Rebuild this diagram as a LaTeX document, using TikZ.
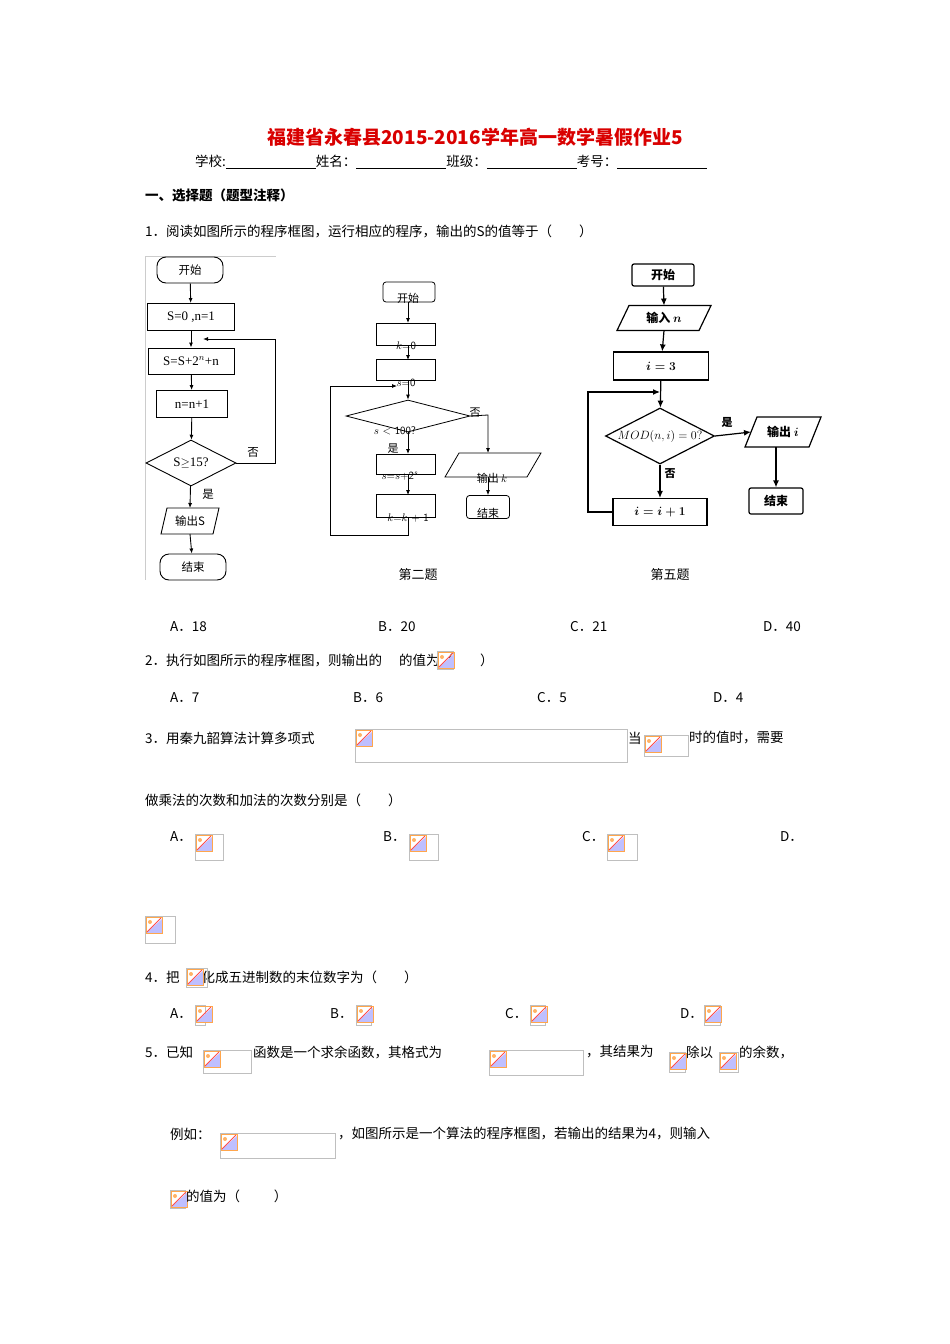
\documentclass[tikz,border=0pt]{standalone}
\usepackage{amsmath}
\usepackage{fontspec}
\setmainfont{Liberation Serif}
\newfontfamily\cjk{Noto Sans CJK SC}
\usetikzlibrary{shapes.geometric,arrows.meta}
\newcommand\phbox[4]{%
 \draw[gray!50,line width=0.5pt] (#1,#2) rectangle (#3,#4);
 \fill[blue!25] (#1+1,#2+17) -- (#1+17,#2+17) -- (#1+17,#2+3) -- cycle;
 \draw[orange!70,line width=0.6pt] (#1+1,#2+1) rectangle (#1+17,#2+17);
 \draw[red!70,line width=1pt] (#1+2,#2+16) -- (#1+16,#2+2);
 \fill[orange!60] (#1+5,#2+6) circle (2);}
% parallelogram: name, cx, cy, halfwidth, halfheight, skew, linewidth
\newcommand\parg[7]{%
 \draw[line width=#7] (#2-#4,#3+#5) -- (#2-#4+#6,#3-#5) -- (#2+#4,#3-#5) -- (#2+#4-#6,#3+#5) -- cycle;
 \coordinate (#1) at (#2,#3);
 \coordinate (#1-n) at (#2,#3-#5);
 \coordinate (#1-s) at (#2,#3+#5);
 \coordinate (#1-w) at (#2-#4+#6/2,#3);}
\tikzset{
 txt/.style={font=\cjk\fontsize{13.5}{15}\selectfont,anchor=west,inner sep=0},
 box/.style={draw,line width=0.9pt,inner sep=0},
 fc/.style={font=\cjk\fontsize{11.5}{13}\selectfont},
 ar/.style={-{Latex[length=5pt,width=4pt]},line width=0.9pt},
 ln/.style={line width=0.9pt}
}
\begin{document}
\begin{tikzpicture}[x=1pt,y=-1pt]
\useasboundingbox[fill=white] (0,0) rectangle (950,1344);
\node[font=\cjk\bfseries\fontsize{19}{21}\selectfont,text=red!85!black] (title) at (475,137) {福建省永春县2015-2016学年高一数学暑假作业5};
\node[txt] (info) at (195,162) {学校:\underline{\hspace{90pt}}姓名：\underline{\hspace{90pt}}班级：\underline{\hspace{90pt}}考号：\underline{\hspace{90pt}}};
\node[txt,font=\cjk\bfseries\fontsize{13.5}{15}\selectfont] (sec) at (145,195) {一、选择题（题型注释）};
\node[txt] (q1) at (145,231) {1．阅读如图所示的程序框图，运行相应的程序，输出的S的值等于（\hspace{2em}）};

% ---- chart 1
\draw[gray!40,line width=0.6pt] (145,256) -- (276,256);
\draw[gray!40,line width=0.6pt] (145,256) -- (145,580);
\node[box,rounded corners=9pt,minimum width=66pt,minimum height=26pt,fc] (a1) at (190,270) {开始};
\node[box,minimum width=87pt,minimum height=27pt,font=\fontsize{13}{15}\selectfont] (a2) at (191,317) {S=0 ,n=1};
\node[box,minimum width=86pt,minimum height=26pt,font=\fontsize{13}{15}\selectfont] (a3) at (191,361) {S=S+2$^{n}$+n};
\node[box,minimum width=71pt,minimum height=27pt,font=\fontsize{13}{15}\selectfont] (a4) at (192,404) {n=n+1};
\node[draw,line width=0.9pt,diamond,aspect=2,minimum width=90pt,minimum height=46pt,inner sep=0,font=\fontsize{13}{15}\selectfont] (a5) at (191,463) {S$\geq$15?};
\parg{a6}{190}{521}{29}{13}{6}{0.9pt}
\node[fc] (a6t) at (190,521) {输出S};
\node[box,rounded corners=9pt,minimum width=66pt,minimum height=26pt,fc] (a7) at (193,567) {结束};
\draw[ar] (a1) -- (a2);
\draw[ar] (a2) -- (a3);
\draw[ar] (a3) -- (a4);
\draw[ar] (a4) -- (a5);
\draw[ar] (a5) -- (a6-n);
\draw[ar] (a6-s) -- (a7);
\draw[ar] (a5.east) -- (275,463) -- (275,339) -- (203,339);
\node[fc] (l1) at (253,452) {否};
\node[fc] (l2) at (208,494) {是};

% ---- chart 2
\tikzset{b2/.style={draw,line width=0.8pt,minimum width=59pt,inner sep=0}, t2/.style={font=\sffamily\fontsize{11}{12}\selectfont}}
\node[b2,rounded corners=3pt,minimum width=52pt,minimum height=20pt] (b1) at (409,292) {};
\node[t2,font=\cjk\fontsize{11}{12}\selectfont] at (408,298) {开始};
\node[b2,minimum height=22pt] (b2n) at (406,334) {};
\node[t2] at (406,346) {$k$=0};
\node[b2,minimum height=21pt] (b3) at (406,370) {};
\node[t2] at (406,383) {$s$=0};
\node[draw,line width=0.8pt,diamond,aspect=3.8,minimum width=124pt,minimum height=32pt,inner sep=0] (b4) at (408,416) {};
\node[t2] at (395,431) {$s$ $<$ 100?};
\node[b2,minimum height=20pt] (b5) at (406,464) {};
\node[t2] at (400,476) {$s$=$s$+2$^{s}$};
\node[b2,minimum height=23pt] (b6) at (406,506) {};
\node[t2] at (408,518) {$k$=$k$ + 1};
\parg{b7}{493}{465}{48}{12}{14}{0.8pt}
\node[t2,font=\cjk\fontsize{11}{12}\selectfont] at (492,478) {输出 $k$};
\node[b2,rounded corners=3pt,minimum width=43pt,minimum height=23pt] (b8) at (488,507) {};
\node[t2,font=\cjk\fontsize{11}{12}\selectfont] at (488,513) {结束};
\draw[ar,line width=0.8pt] (408,302) -- (408,323);
\draw[ar,line width=0.8pt] (408,345) -- (408,360);
\draw[ar,line width=0.8pt] (408,381) -- (b4.north);
\draw[ar,line width=0.8pt] (b4.south) -- (408,454);
\draw[ar,line width=0.8pt] (408,474) -- (408,495);
\draw[ar,line width=0.8pt] (b4.east) -- (488,415) -- (488,453);
\draw[ar,line width=0.8pt] (488,477) -- (b8.north);
\draw[ar,line width=0.8pt] (408,518) -- (408,535) -- (330,535) -- (330,386) -- (397,386);
\node[t2,font=\cjk\fontsize{11}{12}\selectfont] at (475,413) {否};
\node[t2,font=\cjk\fontsize{11}{12}\selectfont] at (393,449) {是};
\node[font=\cjk\fontsize{13}{15}\selectfont] (cap2) at (418,575) {第二题};

% ---- chart 3
\tikzset{c3/.style={draw,line width=1.2pt,inner sep=0,font=\cjk\bfseries\fontsize{12}{14}\selectfont}, c3t/.style={font=\cjk\bfseries\fontsize{12}{14}\selectfont}}
\node[c3,rounded corners=2pt,minimum width=62pt,minimum height=22pt] (c1) at (663,275) {开始};
\parg{c2}{664}{318}{47}{12.5}{12}{1.2pt}
\node[c3t] (c2t) at (664,318) {输入 $\boldsymbol{n}$};
\node[c3,minimum width=95pt,minimum height=28pt] (c3n) at (661,366) {$\boldsymbol{i=3}$};
\node[c3,diamond,aspect=2,minimum width=109pt,minimum height=56pt,font=\fontsize{12}{14}\selectfont] (c4) at (660,436) {$MOD(n,i)=0?$};
\node[c3,minimum width=94pt,minimum height=27pt] (c5) at (660,512) {$\boldsymbol{i=i+1}$};
\parg{c6}{783}{432}{38}{15}{12}{1.2pt}
\node[c3t] (c6t) at (783,432) {输出 $\boldsymbol{i}$};
\node[c3,rounded corners=2pt,minimum width=54pt,minimum height=26pt] (c7) at (776,501) {结束};
\tikzset{ar3/.style={-{Latex[length=7pt,width=6pt]},line width=1.2pt}}
\draw[ar3] (c1) -- (c2-n);
\draw[ar3] (c2-s) -- (c3n);
\draw[ar3] (c3n) -- (c4);
\draw[ar3] (c4) -- (c5);
\draw[ar3] (c4.east) -- (c6-w);
\draw[ar3] (776,447) -- (c7);
\draw[ar3] (c5.west) -- (588,512) -- (588,392) -- (660,392);
\node[font=\cjk\bfseries\fontsize{11}{13}\selectfont] at (727,422) {是};
\node[font=\cjk\bfseries\fontsize{11}{13}\selectfont] at (670,474) {否};
\node[font=\cjk\fontsize{13}{15}\selectfont] (cap5) at (670,575) {第五题};

% ---- questions
\node[txt] at (170,627) {A．18};
\node[txt] at (378,627) {B．20};
\node[txt] at (570,627) {C．21};
\node[txt] at (763,627) {D．40};
\node[txt] at (145,660) {2．执行如图所示的程序框图，则输出的\hspace{17pt}的值为（\hspace{2em}）};
\phbox{437}{651}{453}{669}
\node[txt] at (170,698) {A．7};
\node[txt] at (353,698) {B．6};
\node[txt] at (537,698) {C．5};
\node[txt] at (713,698) {D．4};
\node[txt] at (145,738) {3．用秦九韶算法计算多项式};
\phbox{355}{729}{627}{762}
\node[txt] at (628,738) {当};
\phbox{644}{735}{688}{756}
\node[txt] at (689,738) {时的值时，需要};
\node[txt] at (145,800) {做乘法的次数和加法的次数分别是（\hspace{2em}）};
\node[txt] at (170,837) {A．};
\phbox{195}{834}{223}{860}
\node[txt] at (383,837) {B．};
\phbox{409}{834}{438}{860}
\node[txt] at (582,837) {C．};
\phbox{607}{834}{637}{860}
\node[txt] at (780,837) {D．};
\phbox{145}{916}{175}{943}
\node[txt] at (145,977) {4．把\hspace{22pt}化成五进制数的末位数字为（\hspace{2em}）};
\phbox{186}{968}{207}{987}
\node[txt] at (170,1014) {A．};
\phbox{195}{1005}{205}{1025}
\node[txt] at (330,1014) {B．};
\phbox{356}{1005}{371}{1025}
\node[txt] at (505,1014) {C．};
\phbox{530}{1005}{545}{1025}
\node[txt] at (680,1014) {D．};
\phbox{704}{1005}{720}{1025}
\node[txt] at (145,1052) {5．已知};
\phbox{203}{1050}{251}{1073}
\node[txt] at (253,1052) {函数是一个求余函数，其格式为};
\phbox{489}{1050}{583}{1075}
\node[txt] at (586,1052) {，其结果为};
\phbox{669}{1052}{685}{1072}
\node[txt] at (686,1052) {除以};
\phbox{719}{1052}{738}{1072}
\node[txt] at (739,1052) {的余数，};
\node[txt] at (170,1134) {例如：};
\phbox{220}{1133}{335}{1158}
\node[txt] at (338,1134) {，如图所示是一个算法的程序框图，若输出的结果为4，则输入};
\phbox{170}{1190}{185}{1208}
\node[txt] at (186,1196) {的值为（\hspace{2.5em}）};
\end{tikzpicture}
\end{document}
